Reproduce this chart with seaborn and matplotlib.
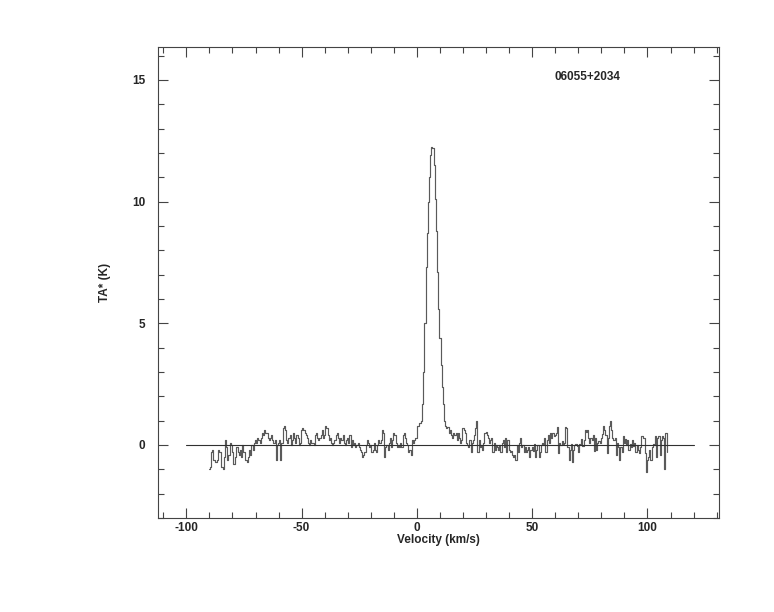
import numpy as np
import pandas as pd
import matplotlib
matplotlib.use('Agg')
import matplotlib.pyplot as plt
import seaborn as sns
from matplotlib.ticker import MultipleLocator

# === spectrum, channels every 0.5 km/s starting at -90 km/s ===
v_start = -90.0
v_step = 0.5
ta = [
    -1.0, -0.9, -0.3, -0.2, -0.6, -0.7, -0.7, -0.6, -0.2, -0.3,   # -90
    -0.3, -0.9, -1.0, -0.5, 0.2, -0.1, -0.6, -0.4, 0.1, 0.0,      # -85
    -0.3, -0.8, -0.8, -0.5, -0.1, -0.3, -0.4, -0.2, -0.5, 0.0,    # -80
    -0.3, -0.6, -0.6, -0.7, -0.5, -0.2, -0.4, 0.0, -0.2, 0.1,     # -75
    0.2, 0.1, 0.3, 0.2, 0.1, 0.3, 0.5, 0.4, 0.6, 0.5,             # -70
    0.5, 0.3, 0.2, 0.3, 0.4, 0.2, 0.1, 0.2, -0.6, 0.0,            # -65
    0.1, 0.2, -0.6, 0.1, 0.7, 0.8, 0.6, 0.2, 0.1, 0.3,            # -60
    0.4, 0.0, 0.2, 0.5, 0.3, 0.1, 0.4, 0.3, 0.0, 0.1,             # -55
    0.6, 0.7, 0.6, 0.5, 0.4, 0.3, 0.1, 0.0, 0.2, 0.1,             # -50
    0.1, 0.0, 0.4, 0.5, 0.3, 0.2, 0.3, 0.4, 0.6, 0.3,             # -45
    0.4, 0.8, 0.7, 0.4, 0.2, 0.3, 0.1, 0.0, 0.1, 0.2,             # -40
    0.4, 0.5, 0.3, 0.1, 0.3, 0.2, 0.4, 0.1, 0.0, 0.2,             # -35
    0.3, 0.1, 0.4, -0.1, 0.2, 0.0, 0.1, -0.1, 0.0, 0.1,           # -30
    -0.1, -0.2, -0.3, -0.5, -0.4, -0.3, 0.0, 0.2, 0.1, -0.1,      # -25
    0.0, -0.3, -0.2, 0.1, -0.2, -0.3, 0.0, 0.2, 0.1, 0.2,         # -20
    0.6, 0.5, -0.5, -0.1, 0.0, -0.2, 0.1, 0.3, -0.1, 0.2,         # -15
    0.5, 0.4, 0.1, -0.1, 0.0, -0.1, 0.1, -0.1, 0.4, 0.5,          # -10
    0.3, 0.1, 0.0, -0.3, -0.2, -0.4, 0.2, 0.1, 0.2, 0.3,          # -5
    0.3, 0.8, 0.9, 0.9, 1.0, 1.7, 3.0, 5.0, 7.3, 8.7,             # 0
    10.0, 11.0, 11.9, 12.25, 12.2, 11.5, 10.1, 8.8, 7.1, 5.6,     # 5
    4.4, 3.3, 2.4, 1.7, 1.0, 0.8, 0.7, 0.75, 0.5, 0.6,            # 10
    0.4, 0.3, 0.5, 0.4, 0.5, 0.2, 0.5, 0.3, 0.1, 0.2,             # 15
    0.7, 0.6, 0.5, 0.1, 0.0, -0.1, 0.2, -0.3, 0.1, 0.2,           # 20
    0.4, 0.7, 1.0, -0.3, 0.2, -0.1, 0.0, -0.2, 0.1, 0.5,          # 25
    0.55, 0.4, 0.3, 0.1, 0.2, 0.3, -0.3, 0.1, -0.2, 0.0,          # 30
    -0.1, -0.2, 0.0, -0.3, 0.1, 0.2, -0.1, 0.3, -0.3, 0.2,        # 35
    -0.2, -0.3, -0.25, -0.4, -0.5, -0.4, -0.6, 0.0, -0.3, 0.1,    # 40
    0.3, -0.1, 0.0, -0.3, -0.1, -0.3, -0.2, -0.1, -0.5, -0.2,     # 45
    -0.1, -0.25, 0.05, -0.5, -0.2, 0.0, -0.5, -0.3, 0.0, 0.1,     # 50
    0.0, 0.3, -0.3, 0.2, 0.4, 0.1, 0.5, 0.3, 0.5, 0.35,           # 55
    0.4, 0.5, 0.75, -0.35, 0.1, 0.0, 0.15, 0.05, 0.1, 0.75,       # 60
    0.7, -0.1, -0.6, -0.2, 0.05, -0.7, -0.2, 0.0, 0.05, -0.05,    # 65
    -0.3, 0.05, 0.0, 0.25, -0.05, 0.2, 0.6, 0.55, 0.6, 0.3,       # 70
    0.1, 0.3, 0.2, 0.4, -0.25, 0.3, -0.2, 0.1, 0.15, 0.1,         # 75
    0.3, 0.45, 0.8, 0.6, 0.4, -0.35, 0.3, 0.8, 1.0, 0.6,          # 80
    0.3, 0.2, 0.3, -0.4, 0.1, -0.1, -0.6, -0.1, -0.3, 0.35,       # 85
    0.1, 0.25, 0.0, 0.2, -0.2, 0.05, -0.1, 0.2, -0.05, 0.1,       # 90
    -0.3, 0.0, -0.2, -0.35, -0.1, 0.35, 0.35, 0.3, -0.35, -1.1,   # 95
    -0.6, -0.5, -0.2, -0.6, -0.1, 0.05, 0.0, 0.35, -0.5, 0.3,     # 100
    0.35, -0.4, 0.2, 0.35, 0.3, -1.0, 0.5, -0.3,                  # 105
]
baseline_x = [-100, 120]
source_name = "06055+2034"

velocity = v_start + v_step * np.arange(len(ta))
df = pd.DataFrame({"Velocity": velocity, "TA": ta})

sns.set_style("ticks")
plt.rcParams['font.family'] = ['Liberation Sans', 'DejaVu Sans']
plt.rcParams['font.weight'] = 'bold'
plt.rcParams['axes.unicode_minus'] = False

fig = plt.figure(figsize=(7.74, 6.12), dpi=100)
ax = fig.add_axes([0.2041, 0.1536, 0.7248, 0.7696])

sns.lineplot(data=df, x="Velocity", y="TA", ax=ax, estimator=None,
             drawstyle="steps-mid", color="#5a5a5a", linewidth=0.85)
ax.plot(baseline_x, [0, 0], color="#303030", linewidth=0.8)

ax.set_xlim(-112.3, 131.0)
ax.set_ylim(-3.0, 16.35)
ax.xaxis.set_major_locator(MultipleLocator(50))
ax.xaxis.set_minor_locator(MultipleLocator(10))
ax.yaxis.set_major_locator(MultipleLocator(5))
ax.yaxis.set_minor_locator(MultipleLocator(1))
ax.tick_params(which="both", direction="in", top=True, right=True,
               color="#444444", width=0.8, labelsize=8.5)
ax.tick_params(which="major", length=7.5)
ax.tick_params(which="minor", length=4.5)
ax.tick_params(axis="y", which="major", pad=9)
ax.tick_params(axis="x", which="major", pad=3)
for lbl in ax.get_xticklabels() + ax.get_yticklabels():
    lbl.set_fontweight("bold")
for sp in ax.spines.values():
    sp.set_color("#444444")
    sp.set_linewidth(0.8)

ax.set_xlabel("Velocity (km/s)", fontsize=8.5, fontweight="bold", labelpad=0)
ax.set_ylabel("TA* (K)", fontsize=8.5, fontweight="bold", labelpad=15)
ax.text(0.766, 0.936, source_name, transform=ax.transAxes, ha="center",
        va="center", fontsize=8.5, fontweight="bold")

fig.savefig("out.png", dpi=100)
plt.close(fig)
